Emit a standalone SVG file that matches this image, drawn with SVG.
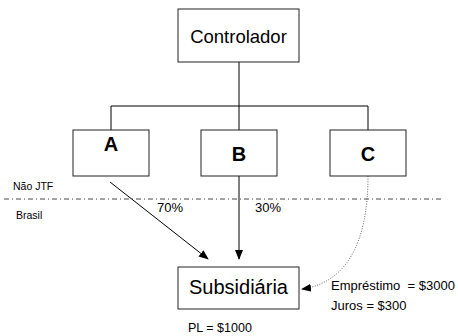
<svg xmlns="http://www.w3.org/2000/svg" width="458" height="336" viewBox="0 0 458 336">
<style>
.box{fill:#fff;stroke:#222;stroke-width:1}
.ln{stroke:#000;stroke-width:1;fill:none}
.t{font-family:"Liberation Sans",Arial,sans-serif;fill:#000}
.pre{white-space:pre}
</style>
<defs>
<marker id="ah" markerWidth="10" markerHeight="8" refX="9" refY="4" orient="auto" markerUnits="userSpaceOnUse">
<path d="M0,0 L10,4 L0,8 z" fill="#000"/>
</marker>
</defs>
<rect width="458" height="336" fill="#fff"/>
<g id="connectors">
<path class="ln" d="M239,62 V106 M111,106 H368 M111,106 V130 M239,106 V130 M368,106 V130"/>
<path d="M4,199 H444" stroke="#444" stroke-width="1" stroke-dasharray="5,3,1,3" fill="none"/>
<path class="ln" d="M110,182 L208,259" marker-end="url(#ah)"/>
<path class="ln" d="M239,176 V259" marker-end="url(#ah)"/>
<path d="M368,176 C368,245 345,283 302,289" stroke="#666" stroke-width="1" stroke-dasharray="1,1.5" fill="none" marker-end="url(#ah)"/>
</g>
<g id="controlador">
<rect class="box" x="178" y="9" width="121" height="53"/>
<text class="t" x="238.5" y="43" font-size="18.5" text-anchor="middle">Controlador</text>
</g>
<g id="A">
<rect class="box" x="73" y="130" width="76" height="46"/>
<text class="t" x="111" y="151" font-size="20" font-weight="bold" text-anchor="middle">A</text>
</g>
<g id="B">
<rect class="box" x="201" y="130" width="76" height="46"/>
<text class="t" x="239" y="161" font-size="20" font-weight="bold" text-anchor="middle">B</text>
</g>
<g id="C">
<rect class="box" x="330" y="130" width="76" height="46"/>
<text class="t" x="368" y="161" font-size="20" font-weight="bold" text-anchor="middle">C</text>
</g>
<g id="subsidiaria">
<rect class="box" x="178" y="267" width="121" height="42"/>
<text class="t" x="238.5" y="294" font-size="20" text-anchor="middle">Subsidiária</text>
</g>
<g id="labels">
<text class="t" x="13" y="190" font-size="10.5">Não JTF</text>
<text class="t" x="16" y="219" font-size="10.5">Brasil</text>
<text class="t" x="157" y="212" font-size="13">70%</text>
<text class="t" x="255" y="212" font-size="13">30%</text>
<text class="t pre" x="331" y="290" font-size="13">Empréstimo  = $3000</text>
<text class="t" x="331" y="310" font-size="13">Juros = $300</text>
<text class="t" x="188" y="332" font-size="12.5">PL = $1000</text>
</g>
</svg>
